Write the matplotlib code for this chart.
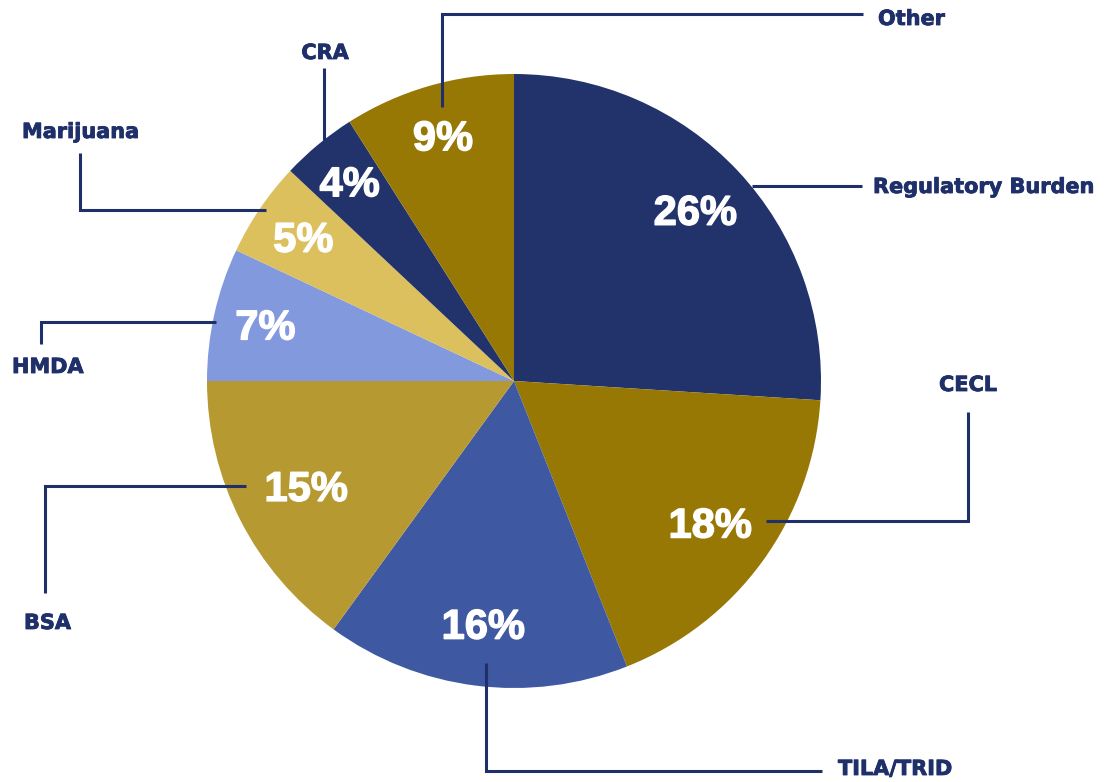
import numpy as np
import matplotlib
matplotlib.use('Agg')
import matplotlib.pyplot as plt
import matplotlib.patheffects as pe

# ============ 数据 ============
categories = ['Regulatory Burden', 'CECL', 'TILA/TRID', 'BSA',
              'HMDA', 'Marijuana', 'CRA', 'Other']
shares = [26, 18, 16, 15, 7, 5, 4, 9]
colors = ['#22336c', '#977805', '#3f58a2', '#b79932',
          '#8399de', '#dcc05e', '#22336c', '#977805']

# ============ 版式 (像素坐标, y 向下) ============
W, H = 1107, 782
CX, CY, R = 514, 381, 307
NAVY = '#1f2f6a'

# 百分比标签的径向位置（相对半径）
pct_dist = [0.81, 0.79, 0.80, 0.76, 0.83, 0.83, 0.84, 0.83]

# 引线折点 与 标签位置
leaders = [
    [(752, 186), (862, 186)],
    [(766, 521), (968, 521), (968, 412)],
    [(486, 663), (486, 771), (822, 771)],
    [(246, 486), (45, 486), (45, 593)],
    [(216, 322), (41, 322), (41, 344)],
    [(266, 210), (80, 210), (80, 153)],
    [(324, 140), (324, 68)],
    [(442, 107), (442, 14), (863, 14)],
]
label_pos = [(873, 187, 'left'), (968, 385, 'center'), (838, 769, 'left'),
             (24, 623, 'left'), (12, 367, 'left'), (22, 132, 'left'),
             (325, 53, 'center'), (878, 19, 'left')]

fig = plt.figure(figsize=(W / 100, H / 100), dpi=100)
ax = fig.add_axes([0, 0, 1, 1])
ax.axis('off')

wedges, _ = ax.pie(shares, colors=colors, startangle=90, counterclock=False,
                   center=(CX, H - CY), radius=R,
                   wedgeprops=dict(linewidth=0))
ax.set_xlim(0, W)
ax.set_ylim(0, H)
ax.set_aspect('equal')

for w, v, d in zip(wedges, shares, pct_dist):
    ang = np.deg2rad((w.theta1 + w.theta2) / 2)
    x = CX + d * R * np.cos(ang)
    y = (H - CY) + d * R * np.sin(ang) - 3
    ax.text(x, y, f'{v}%', color='white', fontsize=30, fontweight='bold',
            family='Liberation Sans', ha='center', va='center',
            path_effects=[pe.withStroke(linewidth=1.0, foreground='white')])

for pts in leaders:
    xs = [p[0] for p in pts]
    ys = [H - p[1] for p in pts]
    ax.plot(xs, ys, color=NAVY, linewidth=2.2, solid_joinstyle='miter',
            solid_capstyle='butt')

for name, (x, y, ha) in zip(categories, label_pos):
    ax.text(x, H - y, name, color=NAVY, fontsize=15, fontweight='bold',
            family='DejaVu Sans', ha=ha, va='center',
            path_effects=[pe.withStroke(linewidth=0.6, foreground=NAVY)])

fig.savefig('out.png', dpi=100)
